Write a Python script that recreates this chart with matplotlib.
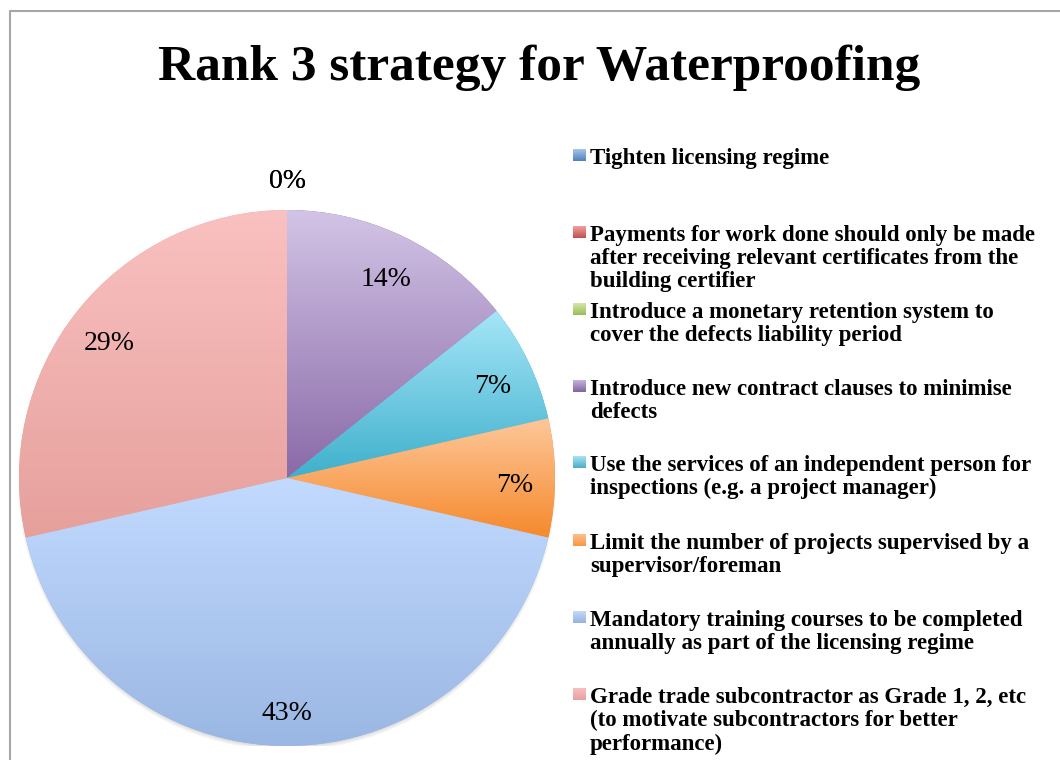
import matplotlib.pyplot as plt
import matplotlib.colors as mcolors
import numpy as np

# data
title = 'Rank 3 strategy for Waterproofing'
categories = [
    'Tighten licensing regime',
    'Payments for work done should only be made\nafter receiving relevant certificates from the\nbuilding certifier',
    'Introduce a monetary retention system to\ncover the defects liability period',
    'Introduce new contract clauses to minimise\ndefects',
    'Use the services of an independent person for\ninspections (e.g. a project manager)',
    'Limit the number of projects supervised by a\nsupervisor/foreman',
    'Mandatory training courses to be completed\nannually as part of the licensing regime',
    'Grade trade subcontractor as Grade 1, 2, etc\n(to motivate subcontractors for better\nperformance)',
]
counts = [0, 0, 0, 2, 1, 1, 6, 4]

# gradient colours (top, bottom) for slices and legend keys
slice_top = ['#a8c4ec', '#f2a0a0', '#d4e8a8', '#d2c4e6', '#a6e6f8', '#fdc79a', '#c2daff', '#f9c1c0']
slice_bot = ['#4f81bd', '#c0504d', '#9bbb59', '#8a6aa8', '#3fb0cc', '#f6892c', '#9ab7e3', '#e6a09c']
key_top = ['#a8c4ec', '#f2a0a0', '#d4e8a8', '#c4b4dc', '#a8e4f4', '#fcc08c', '#c6d9f8', '#f8c0c0']
key_bot = ['#4f81bd', '#c0504d', '#9bbb59', '#8064a2', '#4bacc6', '#f79646', '#95b3e0', '#e6a0a0']

W, H = 1060, 760
plt.rcParams['font.family'] = ['Liberation Serif', 'DejaVu Serif']

fig = plt.figure(figsize=(W / 100, H / 100), dpi=100)

def grad(c_top, c_bot, n=128):
    a = np.array(mcolors.to_rgb(c_top))
    b = np.array(mcolors.to_rgb(c_bot))
    t = np.linspace(0, 1, n)[:, None]
    return (a + (b - a) * t)[:, None, :]

# pie axes (centre ~ (287, 478) px, radius ~ 268 px)
cx, cy, R = 287, 478, 268
ax = fig.add_axes([(cx - R) / W, (H - cy - R) / H, 2 * R / W, 2 * R / H])

# soft shadow, mostly below
for k in range(4):
    ax.add_patch(plt.Circle((0.0, -0.013), 0.992 + 0.004 * k,
                            color='#000000', alpha=0.03, lw=0, zorder=0))

wedges, _ = ax.pie(counts, startangle=90, counterclock=False, radius=1,
                   colors=slice_bot, wedgeprops=dict(linewidth=0))
total = sum(counts)
seen = set()
for i, w in enumerate(wedges):
    w.set_zorder(1)
    if counts[i] > 0:
        v = w.get_path().vertices
        x0, x1 = v[:, 0].min(), v[:, 0].max()
        y0, y1 = v[:, 1].min(), v[:, 1].max()
        im = ax.imshow(grad(slice_top[i], slice_bot[i]), extent=(x0, x1, y0, y1),
                       origin='upper', aspect='auto', interpolation='bilinear', zorder=2)
        im.set_clip_path(w)
    mid = np.deg2rad((w.theta1 + w.theta2) / 2)
    d = 0.85 if counts[i] > 0 else 1.135
    pos = (round(d * np.cos(mid), 3), round(d * np.sin(mid) - 0.027, 3))
    if pos in seen:
        continue
    seen.add(pos)
    ax.text(pos[0], pos[1], f'{counts[i] / total:.0%}',
            ha='center', va='center', fontsize=20, color='black', zorder=5)

ax.set_xlim(-1, 1)
ax.set_ylim(-1, 1)
ax.set_aspect('auto')
ax.axis('off')

# overlay in pixel coordinates for title, legend and border
ov = fig.add_axes([0, 0, 1, 1], zorder=-1)
ov.set_xlim(0, W)
ov.set_ylim(H, 0)
ov.axis('off')
ov.patch.set_alpha(0)

ov.plot([9.5, 9.5, W], [H, 10.5, 10.5], color='#a6a6a6', lw=1.5)
ov.text(539, 68, title, ha='center', va='center', fontsize=37, fontweight='bold')

row_y = [156, 233, 310, 387, 463, 541, 618, 695]
for i, lab in enumerate(categories):
    y = row_y[i]
    ov.imshow(grad(key_top[i], key_bot[i]), extent=(573, 586, y + 5, y - 7),
              origin='upper', aspect='auto', interpolation='bilinear')
    ov.text(590, y - 8, lab, ha='left', va='top', fontsize=16.5, fontweight='bold',
            linespacing=1.14)
ov.set_xlim(0, W)
ov.set_ylim(H, 0)

fig.savefig('out.png', dpi=100)
